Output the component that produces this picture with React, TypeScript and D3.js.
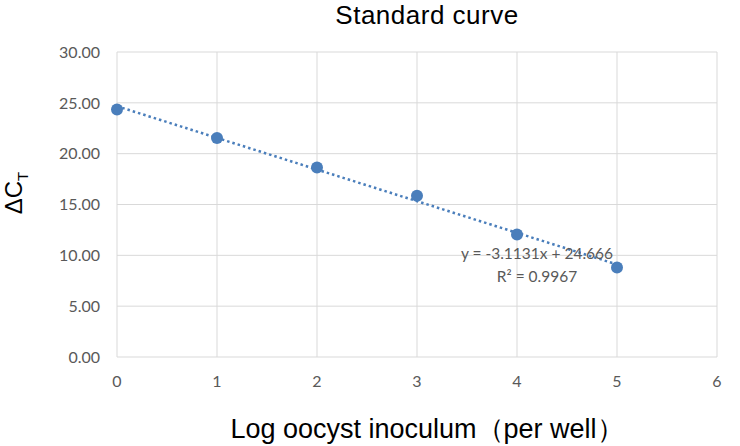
import React, { useEffect, useRef } from 'react';
import * as d3 from 'd3';

const logInoculum = [0, 1, 2, 3, 4, 5];
const deltaCt = [24.35, 21.55, 18.65, 15.85, 12.05, 8.8];
const xTicks = [0, 1, 2, 3, 4, 5, 6];
const yTicks = [0, 5, 10, 15, 20, 25, 30];
const slope = -3.1131;
const intercept = 24.666;
const rSquared = '0.9967';

const App: React.FC = () => {
    const chartRef = useRef<SVGSVGElement | null>(null);

    useEffect(() => {
        if (!chartRef.current) return;
        const width = 740;
        const height = 446;
        const margin = { top: 52, right: 23, bottom: 89, left: 117 };

        const svg = d3.select(chartRef.current);
        svg.selectAll('*').remove();

        const x = d3.scaleLinear().domain([0, 6]).range([margin.left, width - margin.right]);
        const y = d3.scaleLinear().domain([0, 30]).range([height - margin.bottom, margin.top]);

        const tickFont = 'Lato, "Open Sans", sans-serif';
        const labelFont = '"Liberation Sans", Arial, sans-serif';

        svg.append('rect').attr('width', width).attr('height', height).attr('fill', 'white');

        // gridlines
        svg.append('g')
            .selectAll('line')
            .data(yTicks)
            .enter().append('line')
            .attr('x1', x(0)).attr('x2', x(6))
            .attr('y1', d => y(d)).attr('y2', d => y(d))
            .attr('stroke', '#d9d9d9').attr('stroke-width', 1);

        svg.append('g')
            .selectAll('line')
            .data(xTicks)
            .enter().append('line')
            .attr('x1', d => x(d)).attr('x2', d => x(d))
            .attr('y1', y(0)).attr('y2', y(30))
            .attr('stroke', '#d9d9d9').attr('stroke-width', 1);

        // tick labels
        svg.append('g')
            .selectAll('text')
            .data(yTicks)
            .enter().append('text')
            .attr('x', x(0) - 17)
            .attr('y', d => y(d))
            .attr('dy', '0.36em')
            .attr('text-anchor', 'end')
            .style('font-family', tickFont)
            .style('font-size', '16px')
            .style('fill', '#595959')
            .text(d => d.toFixed(2));

        svg.append('g')
            .selectAll('text')
            .data(xTicks)
            .enter().append('text')
            .attr('x', d => x(d))
            .attr('y', y(0) + 30)
            .attr('text-anchor', 'middle')
            .style('font-family', tickFont)
            .style('font-size', '16px')
            .style('fill', '#595959')
            .text(d => String(d));

        // trendline
        const xExt = d3.extent(logInoculum) as [number, number];
        svg.append('line')
            .attr('x1', x(xExt[0])).attr('y1', y(slope * xExt[0] + intercept))
            .attr('x2', x(xExt[1])).attr('y2', y(slope * xExt[1] + intercept))
            .attr('stroke', '#4a7ebb')
            .attr('stroke-width', 2.5)
            .attr('stroke-dasharray', '2.5,3');

        // points
        svg.append('g')
            .selectAll('circle')
            .data(logInoculum)
            .enter().append('circle')
            .attr('cx', d => x(d))
            .attr('cy', (d, i) => y(deltaCt[i]))
            .attr('r', 6)
            .attr('fill', '#4a7ebb');

        // equation
        const eqX = x(4.2);
        const eq = svg.append('text')
            .attr('x', eqX)
            .attr('y', y(9.64))
            .attr('text-anchor', 'middle')
            .style('font-family', tickFont)
            .style('font-size', '15.5px')
            .style('fill', '#595959');
        eq.append('tspan').attr('x', eqX).text(`y = ${slope}x + ${intercept}`);
        eq.append('tspan').attr('x', eqX).attr('dy', 23.5).text(`R² = ${rSquared}`);

        // title
        svg.append('text')
            .attr('x', 427)
            .attr('y', 23.8)
            .attr('text-anchor', 'middle')
            .style('font-family', labelFont)
            .style('font-size', '26px')
            .style('letter-spacing', '0.5px')
            .style('fill', '#000')
            .text('Standard curve');

        // x label
        svg.append('text')
            .attr('x', 427)
            .attr('y', 438)
            .attr('text-anchor', 'middle')
            .style('font-family', labelFont)
            .style('font-size', '27px')
            .style('fill', '#000')
            .text('Log oocyst inoculum（per well）');

        // y label
        const yl = svg.append('text')
            .attr('transform', `translate(22, 193) rotate(-90)`)
            .attr('text-anchor', 'middle')
            .style('font-family', labelFont)
            .style('font-size', '24px')
            .style('fill', '#000');
        yl.append('tspan').text('ΔC');
        yl.append('tspan').attr('dy', 6).style('font-size', '15px').text('T');
    }, []);

    return (
        <svg
            ref={chartRef}
            width={740}
            height={446}
            style={{ position: 'absolute', left: 0, top: 0, display: 'block' }}
        />
    );
};

export default App;
